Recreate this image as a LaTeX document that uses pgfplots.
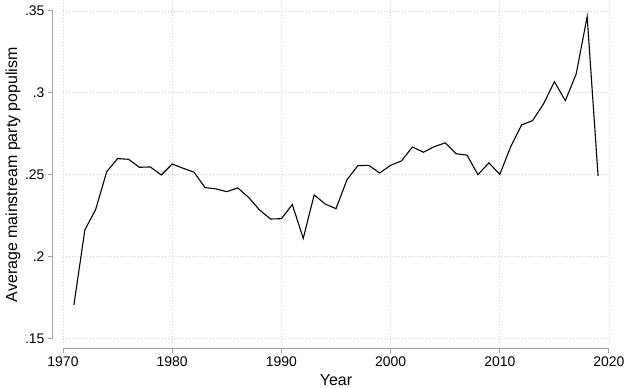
\documentclass[border=0pt]{standalone}
\usepackage{fontspec}
\setmainfont{Liberation Sans}
\usepackage{pgfplots}
\pgfplotsset{compat=1.18}
\pgfplotstableread{
year value
1971 0.1704
1972 0.2162
1973 0.2289
1974 0.2518
1975 0.2598
1976 0.2594
1977 0.2545
1978 0.2547
1979 0.2498
1980 0.2565
1981 0.2539
1982 0.2515
1983 0.2421
1984 0.2413
1985 0.2396
1986 0.2419
1987 0.2361
1988 0.2284
1989 0.2229
1990 0.2231
1991 0.2317
1992 0.2111
1993 0.2376
1994 0.2321
1995 0.2292
1996 0.2468
1997 0.2555
1998 0.2557
1999 0.2510
2000 0.2557
2001 0.2584
2002 0.2669
2003 0.2637
2004 0.2671
2005 0.2694
2006 0.2628
2007 0.2619
2008 0.2500
2009 0.2572
2010 0.2502
2011 0.2671
2012 0.2804
2013 0.2830
2014 0.2932
2015 0.3068
2016 0.2952
2017 0.3116
2018 0.3466
2019 0.2492
}\datatable
\definecolor{axisgray}{RGB}{160,160,160}
\definecolor{gridgray}{RGB}{205,205,205}
\begin{document}
\begin{tikzpicture}
\begin{axis}[
  at={(0,0)}, anchor=south west,
  scale only axis, width=546bp, height=327.3bp,
  xmin=1970, xmax=2020, ymin=0.15, ymax=0.35,
  axis x line=bottom, axis y line=left,
  axis x line shift=10bp, axis y line shift=10bp,
  axis line style={draw=axisgray, line width=1bp, -},
  xtick={1970,1980,1990,2000,2010,2020},
  ytick={0.15,0.2,0.25,0.3,0.35},
  yticklabels={.15,.2,.25,.3,.35},
  x tick label style={/pgf/number format/1000 sep=},
  /pgf/number format/assume math mode=true,
  tick align=outside, major tick length=5bp,
  tick style={draw=axisgray, line width=1bp},
  ymajorgrids,
  grid style={draw=gridgray, line width=0.8bp, dash pattern=on 0.8bp off 2.2bp},
  tick label style={font=\fontsize{14}{16}\selectfont},
  xlabel={Year}, ylabel={Average mainstream party populism},
  every axis x label/.style={at={(axis description cs:0.5,0)}, yshift=-42bp, anchor=center, font=\fontsize{16}{19}\selectfont},
  every axis y label/.style={at={(axis description cs:0,0.5)}, xshift=-50bp, rotate=90, anchor=center, font=\fontsize{16}{19}\selectfont},
  clip=false,
]
\pgfplotsinvokeforeach{1970,1980,1990,2000,2010,2020}{
  \draw[draw=gridgray, line width=0.8bp, dash pattern=on 0.8bp off 2.2bp] (axis cs:#1,0.147) -- (axis cs:#1,0.3567);
}
\addplot[black, line width=1.1bp, mark=none] table[x=year, y=value] {\datatable};
\end{axis}
\pgfresetboundingbox
\path (-63bp,-49.7bp) rectangle (565bp,338.3bp);
\end{tikzpicture}
\end{document}
